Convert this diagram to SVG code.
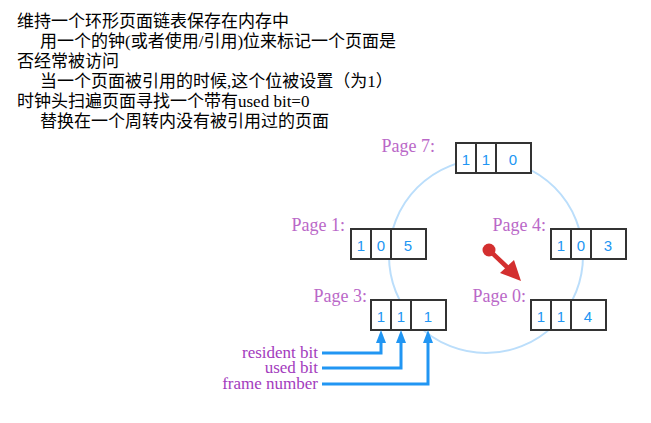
<svg xmlns="http://www.w3.org/2000/svg" width="651" height="423" viewBox="0 0 651 423">
<style>
.t{font-family:"Liberation Serif","Noto Sans CJK SC",serif;font-size:17px;fill:#000}
.pl{font-family:"Liberation Serif",serif;font-size:18px;fill:#ba68c8;text-anchor:end}
.an{font-family:"Liberation Serif",serif;font-size:17px;fill:#a33bbd;text-anchor:end}
.box{fill:#fff;stroke:#333;stroke-width:2}
.d{font-family:"Liberation Sans",Arial,sans-serif;font-size:15px;fill:#2196f3;text-anchor:middle}
.bl{fill:none;stroke:#2196f3;stroke-width:3}
</style>
<defs>
<marker id="ah" viewBox="0 0 10 13" refX="10" refY="5" markerWidth="10" markerHeight="13" markerUnits="userSpaceOnUse" orient="auto">
<path d="M0,0 L10,5 L0,10 Z" fill="#2196f3"/>
</marker>
</defs>
<g id="description">
<text class="t" x="17" y="27">维持一个环形页面链表保存在内存中</text>
<text class="t" x="40" y="47">用一个的钟(或者使用/引用)位来标记一个页面是</text>
<text class="t" x="17" y="67">否经常被访问</text>
<text class="t" x="40" y="87">当一个页面被引用的时候,这个位被设置（为1）</text>
<text class="t" x="17" y="107">时钟头扫遍页面寻找一个带有used bit=0</text>
<text class="t" x="40" y="127">替换在一个周转内没有被引用过的页面</text>
</g>
<circle id="clock" cx="486" cy="256" r="97" fill="none" stroke="#bbdefb" stroke-width="2"/>
<g id="page7">
<text class="pl" x="435" y="152">Page 7:</text>
<rect class="box" x="456" y="143" width="75" height="30"/>
<line class="box" x1="476" y1="143" x2="476" y2="173"/>
<line class="box" x1="496" y1="143" x2="496" y2="173"/>
<text class="d" x="466" y="165">1</text><text class="d" x="486" y="165">1</text><text class="d" x="513" y="165">0</text>
</g>
<g id="page1">
<text class="pl" x="345" y="231">Page 1:</text>
<rect class="box" x="351" y="229" width="75" height="30"/>
<line class="box" x1="371" y1="229" x2="371" y2="259"/>
<line class="box" x1="391" y1="229" x2="391" y2="259"/>
<text class="d" x="361" y="251">1</text><text class="d" x="381" y="251">0</text><text class="d" x="408" y="251">5</text>
</g>
<g id="page4">
<text class="pl" x="546" y="231">Page 4:</text>
<rect class="box" x="551" y="229" width="75" height="30"/>
<line class="box" x1="571" y1="229" x2="571" y2="259"/>
<line class="box" x1="591" y1="229" x2="591" y2="259"/>
<text class="d" x="561" y="251">1</text><text class="d" x="581" y="251">0</text><text class="d" x="608" y="251">3</text>
</g>
<g id="page0">
<text class="pl" x="526" y="302">Page 0:</text>
<rect class="box" x="531" y="300" width="75" height="30"/>
<line class="box" x1="551" y1="300" x2="551" y2="330"/>
<line class="box" x1="571" y1="300" x2="571" y2="330"/>
<text class="d" x="541" y="322">1</text><text class="d" x="561" y="322">1</text><text class="d" x="588" y="322">4</text>
</g>
<g id="page3">
<text class="pl" x="367" y="302">Page 3:</text>
<rect class="box" x="371" y="300" width="75" height="30"/>
<line class="box" x1="391" y1="300" x2="391" y2="330"/>
<line class="box" x1="411" y1="300" x2="411" y2="330"/>
<text class="d" x="381" y="322">1</text><text class="d" x="401" y="322">1</text><text class="d" x="428" y="322">1</text>
</g>
<g id="hand">
<circle cx="489" cy="250" r="6.5" fill="#d32f2f"/>
<line x1="489" y1="250" x2="508" y2="268" stroke="#d32f2f" stroke-width="4.5"/>
<path d="M521,281 L500,273 L514,260 Z" fill="#d32f2f"/>
</g>
<g id="legend">
<text class="an" x="318" y="358">resident bit</text>
<text class="an" x="318" y="373">used bit</text>
<text class="an" x="318" y="389">frame number</text>
</g>
<g id="connectors">
<path class="bl" d="M322,353 H381 V342"/>
<path d="M376,343 L381,330 L386,343 Z" fill="#2196f3"/>
<path class="bl" d="M322,368 H401 V342"/>
<path d="M396,343 L401,330 L406,343 Z" fill="#2196f3"/>
<path class="bl" d="M322,384 H428 V342"/>
<path d="M423,343 L428,330 L433,343 Z" fill="#2196f3"/>
</g>
</svg>
